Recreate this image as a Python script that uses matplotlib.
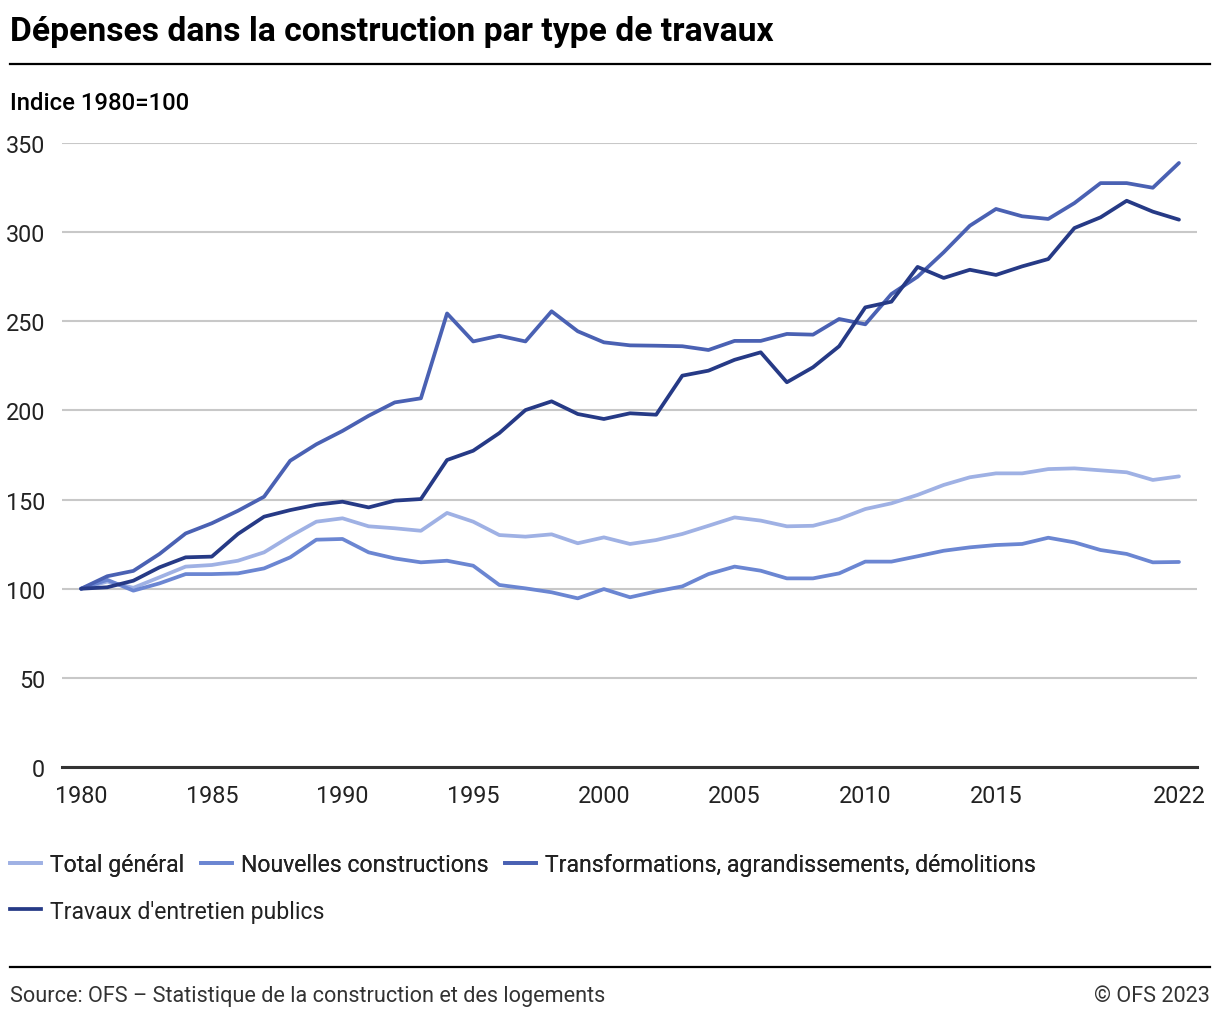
import matplotlib as mpl
mpl.use('Agg')
import matplotlib.pyplot as plt
from matplotlib.lines import Line2D

plt.rcParams['font.family'] = ['Roboto', 'DejaVu Sans']

years = list(range(1980, 2023))

total = [100, 104, 100.5, 106.4, 112.4, 113.3, 115.7, 120.4, 129.4, 137.6, 139.5,
         135, 133.9, 132.5, 142.5, 137.6, 130.1, 129.2, 130.5, 125.5, 128.8,
         125.1, 127.3, 130.7, 135.3, 140, 138.2, 135, 135.3, 139.1, 144.7,
         147.9, 152.6, 158.2, 162.5, 164.7, 164.7, 167.1, 167.5, 166.4, 165.3,
         161, 163]
nouvelles = [100, 105, 98.9, 103, 108.2, 108.2, 108.6, 111.4, 117.6, 127.5, 127.9,
             120.4, 117, 114.8, 115.7, 112.9, 102.1, 100.2, 98, 94.6, 99.8,
             95.2, 98.5, 101.3, 108.2, 112.4, 110.1, 105.8, 105.8, 108.6, 115.2,
             115.2, 118.2, 121.3, 123.2, 124.5, 125.1, 128.6, 126, 121.7, 119.5,
             114.8, 115]
transfo = [100, 107, 110, 119.5, 131, 136.7, 143.7, 151.6, 171.8, 181, 188.5,
           197, 204.5, 206.8, 254.4, 238.7, 241.9, 238.7, 255.6, 244.4, 238.2,
           236.5, 236.3, 236, 233.9, 239, 239, 242.9, 242.5, 251.3, 248.3,
           265.3, 275, 288.7, 303.6, 313, 308.9, 307.4, 316.3, 327.5, 327.5,
           324.9, 338.8]
entretien = [100, 100.8, 104.5, 112, 117.6, 118, 130.7, 140.4, 144.1, 147.1, 148.8,
             145.6, 149.4, 150.3, 172.2, 177.4, 187.3, 200.2, 205.1, 198, 195.2,
             198.4, 197.6, 219.5, 222.3, 228.4, 232.6, 215.8, 224.2, 236, 257.8,
             261, 280.5, 274.3, 278.9, 276, 280.8, 284.9, 302.3, 308.3, 317.6,
             311.5, 307]

labels = ['Total général', 'Nouvelles constructions',
          'Transformations, agrandissements, démolitions',
          "Travaux d'entretien publics"]
colors = ['#9fb1e4', '#6b86d2', '#4a61b3', '#263a86']
xticks = [1980, 1985, 1990, 1995, 2000, 2005, 2010, 2015, 2022]

W, H = 1220, 1020
fig = plt.figure(figsize=(W / 100, H / 100), dpi=100)
ax = fig.add_axes([62 / W, 1 - 768 / H, (1197 - 62) / W, (768 - 144) / H])

lw = 2.7
for series, c in zip([total, nouvelles, transfo, entretien], colors):
    ax.plot(years, series, color=c, lw=lw, solid_joinstyle='round',
            solid_capstyle='round', zorder=3, clip_on=False)

ax.set_xlim(1979.27, 2022.69)
ax.set_ylim(0, 350)
ax.set_yticks(range(0, 351, 50))
ax.set_xticks(xticks)
ax.grid(axis='y', color='#c8c8c8', lw=1.5)
ax.set_axisbelow(True)
for s in ['left', 'right', 'top']:
    ax.spines[s].set_visible(False)
ax.spines['bottom'].set_color('#333333')
ax.spines['bottom'].set_linewidth(2.2)
ax.spines['bottom'].set_zorder(4)
ax.tick_params(axis='both', length=0, labelsize=16.8, labelcolor='#222222')
ax.tick_params(axis='y', pad=12)
ax.tick_params(axis='x', pad=12)

# header
fig.text(10 / W, 1 - 32 / H, 'Dépenses dans la construction par type de travaux',
         fontsize=24.2, fontweight='bold', va='center', ha='left')
fig.add_artist(Line2D([10 / W, 1210 / W], [1 - 65 / H, 1 - 65 / H],
                      color='black', lw=1.6))
fig.text(10 / W, 1 - 104 / H, 'Indice 1980=100', fontsize=17.2,
         fontweight='medium', va='center', ha='left')

# legend
handles = [Line2D([], [], color=c, lw=lw) for c in colors]
leg_kw = dict(frameon=False, borderpad=0, borderaxespad=0, handlelength=1.35,
              handletextpad=0.4, columnspacing=0.7, fontsize=16.6,
              loc='center left')
leg1 = fig.legend(handles[:3], labels[:3], ncol=3,
                  bbox_to_anchor=(10 / W, 1 - 866 / H), **leg_kw)
for t in leg1.get_texts():
    t.set_color('#222222')
leg2 = fig.legend(handles[3:], labels[3:], ncol=1,
                  bbox_to_anchor=(10 / W, 1 - 912 / H), **leg_kw)
for t in leg2.get_texts():
    t.set_color('#222222')
fig.add_artist(leg1)

# footer
fig.add_artist(Line2D([10 / W, 1210 / W], [1 - 968 / H, 1 - 968 / H],
                      color='black', lw=1.6))
fig.text(10 / W, 1 - 997 / H,
         'Source: OFS – Statistique de la construction et des logements',
         fontsize=15.6, color='#333333', va='center', ha='left')
fig.text(1210 / W, 1 - 997 / H, '© OFS 2023', fontsize=15.6, color='#333333',
         va='center', ha='right')

fig.savefig('out.png', dpi=100, facecolor='white')
